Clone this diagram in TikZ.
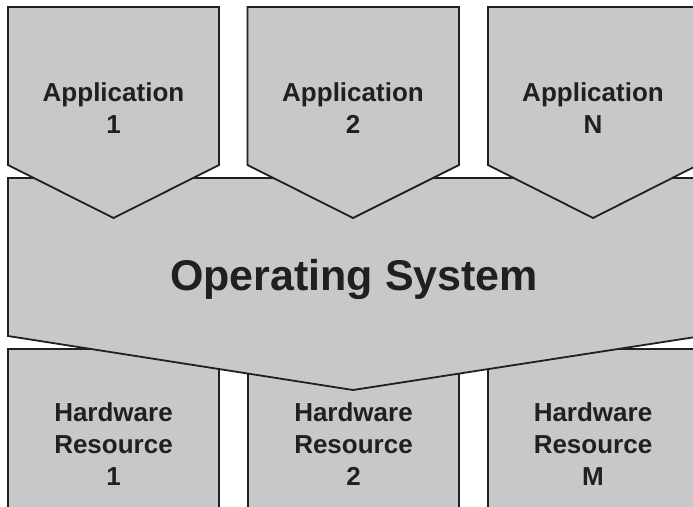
\documentclass[tikz,border=0pt]{standalone}
\usepackage{fontspec}
\setmainfont{Liberation Sans}
\definecolor{boxgray}{HTML}{C7C8CA}
\definecolor{ink}{HTML}{231F20}
\begin{document}
\begin{tikzpicture}[x=1pt,y=-1pt,
  shapebox/.style={fill=boxgray,draw=ink,line width=1.8pt,line join=miter},
  smalllabel/.style={text=ink,font=\fontsize{26}{31.6}\selectfont\bfseries,align=center,inner sep=0pt},
  biglabel/.style={text=ink,font=\fontsize{43}{50}\selectfont\bfseries,inner sep=0pt,anchor=base}]
\useasboundingbox (0,0) rectangle (693,506);
\clip (0,0) rectangle (693,506);
% hardware resources
\path[shapebox] (8,349) rectangle (219,520);
\path[shapebox] (248,349) rectangle (459,520);
\path[shapebox] (488,349) rectangle (700,520);
% operating system
\path[shapebox] (8,178) -- (702,178) -- (702,336) -- (353,390) -- (8,336) -- cycle;
% applications
\path[shapebox] (8,7) -- (219,7) -- (219,165) -- (113.5,218) -- (8,165) -- cycle;
\path[shapebox] (247.5,7) -- (459,7) -- (459,165) -- (353,218) -- (247.5,165) -- cycle;
\path[shapebox] (488,7) -- (698,7) -- (698,165) -- (593,218) -- (488,165) -- cycle;
% labels
\node[smalllabel] (app1) at (113.5,108) {Application\\1};
\node[smalllabel] (app2) at (353,108) {Application\\2};
\node[smalllabel] (appn) at (593,108) {Application\\N};
\node[biglabel] (os) at (354,290) {Operating System};
\node[smalllabel] (hw1) at (113.5,444) {Hardware\\Resource\\1};
\node[smalllabel] (hw2) at (353.5,444) {Hardware\\Resource\\2};
\node[smalllabel] (hwm) at (593,444) {Hardware\\Resource\\M};
\end{tikzpicture}
\end{document}
